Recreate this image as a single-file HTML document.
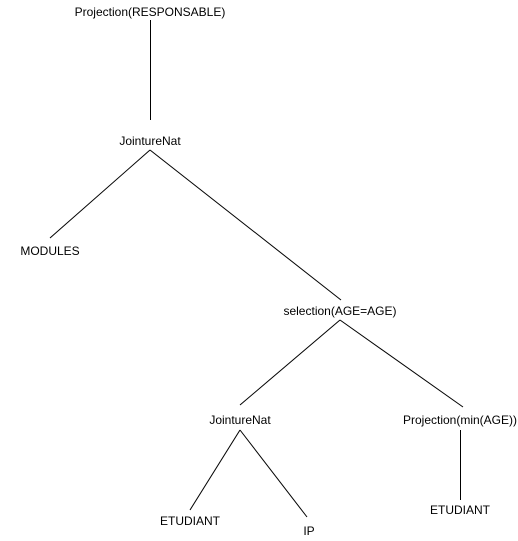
<!DOCTYPE html>
<html><head><style>html,body{margin:0;padding:0;background:#fff}</style></head><body>
<svg width="518" height="541" xmlns="http://www.w3.org/2000/svg" style="display:block">
<g stroke="#000" stroke-width="1" fill="none">
<line x1="150.5" y1="20" x2="150.5" y2="120"/>
<line x1="150" y1="150" x2="50" y2="238"/>
<line x1="150" y1="150" x2="341" y2="300"/>
<line x1="340" y1="320" x2="240" y2="405"/>
<line x1="340" y1="320" x2="463" y2="407"/>
<line x1="240" y1="430" x2="190" y2="510"/>
<line x1="240" y1="430" x2="307" y2="517"/>
<line x1="460.5" y1="430" x2="460.5" y2="500"/>
</g>
<g font-family="Liberation Sans, Arial, sans-serif" font-size="12" fill="#000" text-anchor="middle" dominant-baseline="central">
<text x="150" y="12">Projection(RESPONSABLE)</text>
<text x="150" y="141">JointureNat</text>
<text x="50" y="251">MODULES</text>
<text x="340" y="311">selection(AGE=AGE)</text>
<text x="240" y="420">JointureNat</text>
<text x="460" y="420">Projection(min(AGE))</text>
<text x="190" y="521">ETUDIANT</text>
<text x="309" y="531">IP</text>
<text x="460" y="510">ETUDIANT</text>
</g>
</svg>
</body></html>
